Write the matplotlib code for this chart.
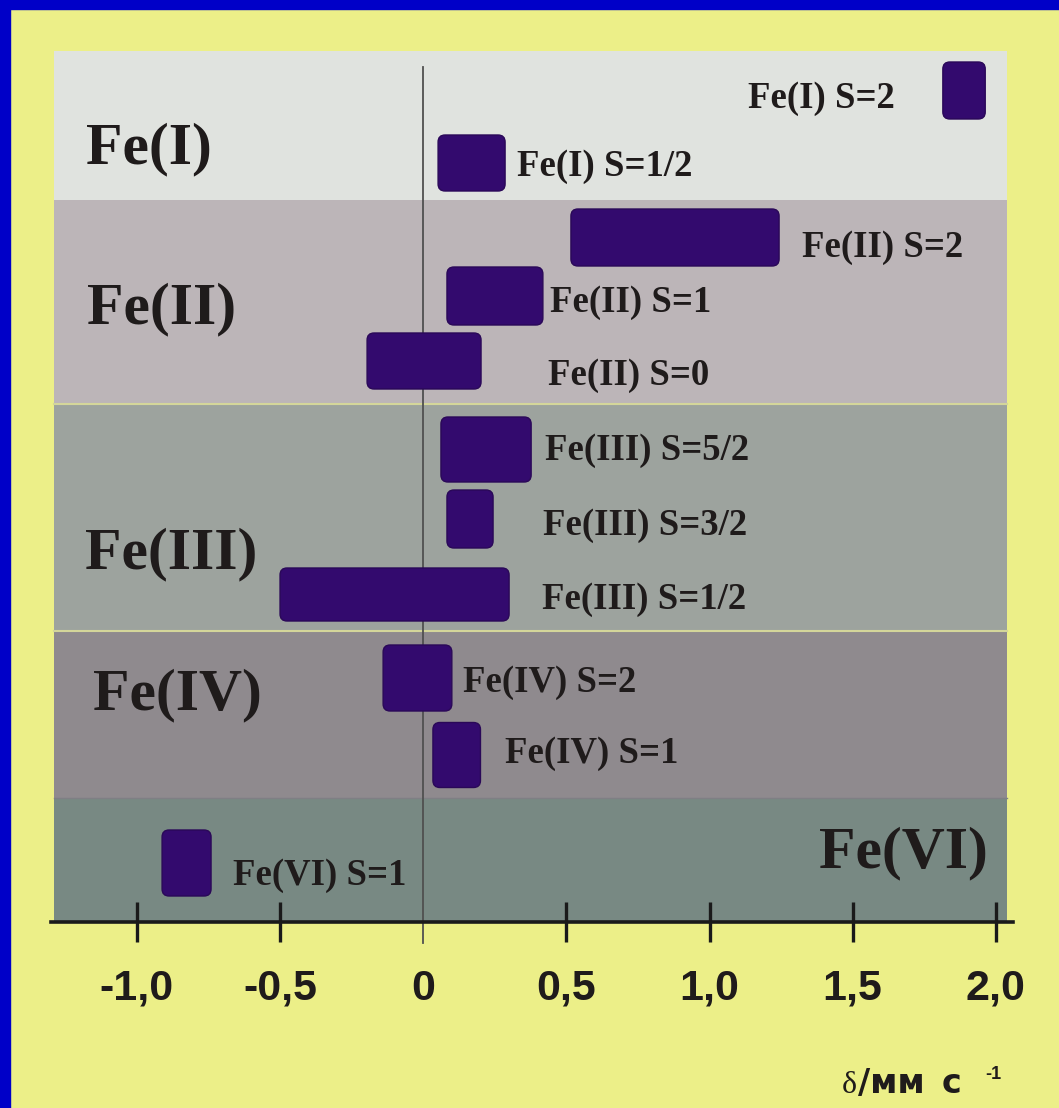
import matplotlib
matplotlib.use('Agg')
import matplotlib.pyplot as plt
from matplotlib.patches import FancyBboxPatch, Rectangle
import numpy as np

# Isomer shift ranges (mm/s) for iron states
species = ['Fe(I) S=2', 'Fe(I) S=1/2',
           'Fe(II) S=2', 'Fe(II) S=1', 'Fe(II) S=0',
           'Fe(III) S=5/2', 'Fe(III) S=3/2', 'Fe(III) S=1/2',
           'Fe(IV) S=2', 'Fe(IV) S=1',
           'Fe(VI) S=1']
delta_min = [1.815, 0.052, 0.516, 0.083, -0.196, 0.062, 0.083, -0.50, -0.14, 0.034, -0.912]
delta_max = [1.963, 0.286, 1.243, 0.418, 0.202, 0.377, 0.244, 0.30, 0.10, 0.20, -0.741]

groups = ['Fe(I)', 'Fe(II)', 'Fe(III)', 'Fe(IV)', 'Fe(VI)']
xticks = [-1.0, -0.5, 0.0, 0.5, 1.0, 1.5, 2.0]
xticklabels = ['-1,0', '-0,5', '0', '0,5', '1,0', '1,5', '2,0']

# layout (vertical axis runs in pixel rows, top = 51, axis line = 922)
row_y = [90.5, 163, 237.5, 296, 361, 449.5, 519, 594.5, 678, 755, 863]
row_h = [57, 56, 57, 58, 56, 65, 58, 53, 66, 65, 66]
label_x = [1.134, 0.328, 1.323, 0.443, 0.436, 0.425, 0.418, 0.415, 0.139, 0.286, -0.664]
label_y = [108, 176, 257, 312, 385, 460, 535, 609, 692, 763, 885]
band_edges = [51, 200, 404, 631, 798, 922]
band_colors = ['#e0e3df', '#bcb5b8', '#9da39e', '#8f8a8e', '#788983']
group_x = [-1.177, -1.174, -1.181, -1.153, 1.973]
group_y = [163, 323, 568, 709, 867]
group_ha = ['left', 'left', 'left', 'left', 'right']

W, H = 1059, 1108
bg = '#ecef88'
bar_color = '#330a6e'
txt_color = '#1f1b1b'

fig = plt.figure(figsize=(W / 100, H / 100), dpi=100, facecolor=bg)
fig.add_artist(Rectangle((0, 1 - 9 / H), 1, 9 / H, transform=fig.transFigure,
                         color='#0000c8', zorder=0))
fig.add_artist(Rectangle((0, 0), 10 / W, 1, transform=fig.transFigure,
                         color='#0000c8', zorder=0))

ax_left, ax_right = 51, 1013
ax = fig.add_axes([ax_left / W, (H - 922) / H, (ax_right - ax_left) / W, (922 - 51) / H])
ax.set_facecolor('none')
ax.set_xlim(-1.30, 2.06)
ax.set_ylim(922, 51)

# background bands
x0f = 3 / (ax_right - ax_left)
x1f = (1007 - ax_left) / (ax_right - ax_left)
for i, c in enumerate(band_colors):
    ax.axhspan(band_edges[i], band_edges[i + 1], xmin=x0f, xmax=x1f,
               facecolor=c, edgecolor='none', zorder=0)
for yb in band_edges[2:4]:
    ax.plot([-1.29, 2.039], [yb, yb], color='#d4d69a', lw=1.5, zorder=1)
ax.plot([-1.29, 2.039], [band_edges[4], band_edges[4]], color='#7f7f84', lw=1.0, zorder=1)

# zero line
ax.axvline(0, ymin=-(943 - 922) / 871, ymax=(922 - 67) / 871, color='#505050',
           lw=1.3, zorder=2, clip_on=False)

# rounded bars
px_per_unit = (ax_right - ax_left) / 3.36
radius = 7
for lo, hi, yc, h in zip(delta_min, delta_max, row_y, row_h):
    box = FancyBboxPatch((lo, yc - h / 2), hi - lo, h,
                         boxstyle=f'round,pad=0,rounding_size={radius / px_per_unit}',
                         mutation_aspect=px_per_unit,
                         facecolor=bar_color, edgecolor='#2a0858', lw=1.0, zorder=3)
    ax.add_patch(box)

for name, lx, ly in zip(species, label_x, label_y):
    ax.text(lx, ly, name, fontsize=26.5, fontweight='bold', family='Liberation Serif',
            color=txt_color, ha='left', va='baseline', zorder=4)

for name, gx, gy, ha in zip(groups, group_x, group_y, group_ha):
    ax.text(gx, gy, name, fontsize=43, fontweight='bold', family='Liberation Serif',
            color=txt_color, ha=ha, va='baseline', zorder=4)

# axis
for s in ['top', 'left', 'right']:
    ax.spines[s].set_visible(False)
ax.spines['bottom'].set_linewidth(2.6)
ax.spines['bottom'].set_color('#1a1a1a')
ax.spines['bottom'].set_zorder(5)
ax.set_yticks([])
ax.set_xticks(xticks)
ax.set_xticklabels(xticklabels, fontsize=31, fontweight='bold', family='Liberation Sans',
                   color=txt_color)
ax.tick_params(axis='x', direction='inout', length=29, width=2.4, color='#1a1a1a', pad=19)
ax.xaxis.get_major_ticks()[2].tick1line.set_visible(False)

# axis title: delta / mm s^-1
base = 1 - 1093 / H
fig.text(842 / W, base, 'δ', fontsize=23, family='Liberation Serif',
         color=txt_color, ha='left', va='baseline')
fig.text(858 / W, base, '/мм', fontsize=24, fontweight='bold',
         family='DejaVu Sans', color=txt_color, ha='left', va='baseline')
fig.text(942 / W, base, 'с', fontsize=24, fontweight='bold',
         family='DejaVu Sans', color=txt_color, ha='left', va='baseline')
fig.text(985 / W, 1 - 1079 / H, '-1', fontsize=13, fontweight='bold',
         family='Liberation Sans', color=txt_color, ha='left', va='baseline')

fig.savefig('out.png', dpi=100, facecolor=bg)
